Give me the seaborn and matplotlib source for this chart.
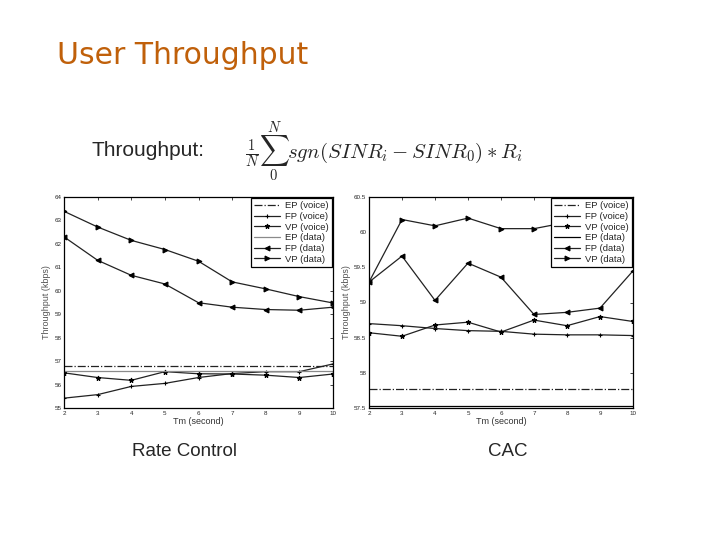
import numpy as np
import pandas as pd
import seaborn as sns
import matplotlib
matplotlib.use("Agg")
import matplotlib.pyplot as plt

# %% Data
tm = [2, 3, 4, 5, 6, 7, 8, 9, 10]

# Rate Control panel
rc_ep_voice = [56.8] * 9
rc_fp_voice = [55.42, 55.57, 55.92, 56.05, 56.3, 56.47, 56.55, 56.55, 56.88]
rc_vp_voice = [56.5, 56.3, 56.18, 56.55, 56.46, 56.45, 56.4, 56.3, 56.45]
rc_ep_data = [56.57] * 9
rc_fp_data = [62.3, 61.3, 60.66, 60.29, 59.49, 59.3, 59.2, 59.17, 59.3]
rc_vp_data = [63.39, 62.72, 62.15, 61.76, 61.26, 60.38, 60.08, 59.75, 59.48]

# CAC panel
cac_ep_voice = [57.77] * 9
cac_fp_voice = [58.7, 58.67, 58.63, 58.6, 58.59, 58.55, 58.54, 58.54, 58.53]
cac_vp_voice = [58.57, 58.52, 58.68, 58.72, 58.58, 58.75, 58.67, 58.8, 58.73]
cac_ep_data = [57.53] * 9
cac_fp_data = [59.29, 59.66, 59.03, 59.56, 59.36, 58.83, 58.86, 58.92, 59.45]
cac_vp_data = [59.29, 60.18, 60.09, 60.2, 60.05, 60.05, 60.14, 60.18, 60.07]

labels = ["EP (voice)", "FP (voice)", "VP (voice)", "EP (data)", "FP (data)", "VP (data)"]


# %%
def draw_panel(ax, series, ep_data_color, ylim, yticks, ytick_labels):
    styles = [
        dict(linestyle="-.", marker=None, color="#222222"),
        dict(linestyle="-", marker="+", color="#222222"),
        dict(linestyle="-", marker="*", color="#222222"),
        dict(linestyle="-", marker=None, color=ep_data_color),
        dict(linestyle="-", marker="<", color="#222222"),
        dict(linestyle="-", marker=">", color="#222222"),
    ]
    for vals, lab, st in zip(series, labels, styles):
        sns.lineplot(x=tm, y=vals, ax=ax, label=lab, color=st["color"], linestyle=st["linestyle"],
                     marker=st["marker"], markersize=3.5, markeredgecolor="black", markerfacecolor="black",
                     markeredgewidth=0.8, linewidth=0.9)
    ax.set_xlim(2, 10)
    ax.set_ylim(*ylim)
    ax.set_xticks(tm)
    ax.set_yticks(yticks)
    ax.set_yticklabels(ytick_labels)
    ax.tick_params(direction="in", labelsize=4.5, length=2.5, width=0.6, top=True, right=True, pad=2)
    ax.set_xlabel("Tm (second)", fontsize=6.5, labelpad=1, color="#333333")
    ax.set_ylabel("Throughput (kbps)", fontsize=6.5, labelpad=2, color="#555555")
    for sp in ax.spines.values():
        sp.set_linewidth(0.9)
        sp.set_color("black")
    leg = ax.legend(loc="upper right", fontsize=6.8, fancybox=False, framealpha=1, edgecolor="black",
                    borderaxespad=0.15, handlelength=2.8, labelspacing=0.18, borderpad=0.3, handletextpad=0.5)
    leg.get_frame().set_linewidth(0.9)


sns.set_style("white")
plt.rcParams["font.family"] = ["Liberation Sans", "DejaVu Sans"]
plt.rcParams["mathtext.fontset"] = "cm"

fig = plt.figure(figsize=(7.2, 5.4), dpi=100)
fig.patch.set_facecolor("white")

ax1 = fig.add_axes([64 / 720, 1 - 408 / 540, 269 / 720, 211 / 540])
ax2 = fig.add_axes([369 / 720, 1 - 408 / 540, 264 / 720, 211 / 540])

draw_panel(ax1, [rc_ep_voice, rc_fp_voice, rc_vp_voice, rc_ep_data, rc_fp_data, rc_vp_data],
           "#8a8a8a", (55, 64), list(range(55, 65)), [str(v) for v in range(55, 65)])
cac_ticks = [57.5, 58, 58.5, 59, 59.5, 60, 60.5]
draw_panel(ax2, [cac_ep_voice, cac_fp_voice, cac_vp_voice, cac_ep_data, cac_fp_data, cac_vp_data],
           "black", (57.5, 60.5), cac_ticks, ["57.5", "58", "58.5", "59", "59.5", "60", "60.5"])

# slide text
fig.text(57 / 720, 1 - 55 / 540, "User Throughput", fontsize=21.5, color="#c0600a", va="center", ha="left",
         family=["DejaVu Sans"])
fig.text(91 / 720, 1 - 150 / 540, "Throughput:", fontsize=15, va="center", ha="left")
fig.text(245 / 720, 1 - 152 / 540, r"$\frac{1}{N}\sum_{0}^{N} sgn(SINR_i - SINR_0) * R_i$",
         fontsize=15, va="center", ha="left")
fig.text(184 / 720, 1 - 452 / 540, "Rate Control", fontsize=13.5, va="center", ha="center")
fig.text(508 / 720, 1 - 452 / 540, "CAC", fontsize=13.5, va="center", ha="center")

fig.savefig("out.png", dpi=100)
